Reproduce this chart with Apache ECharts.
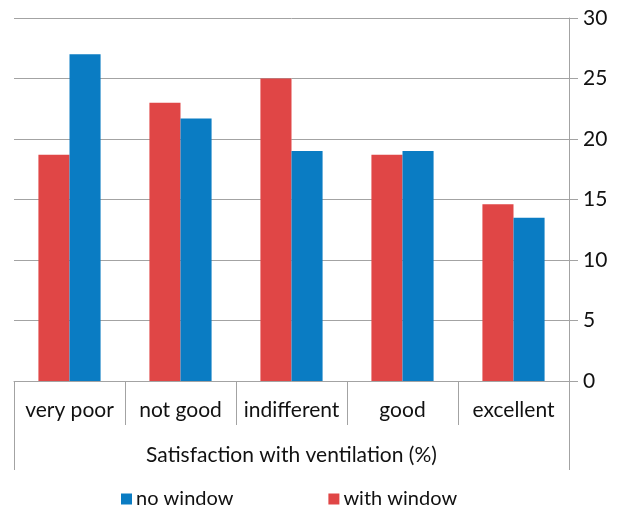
<!DOCTYPE html>
<html>
<head>
<meta charset="utf-8">
<script src="https://cdn.jsdelivr.net/npm/echarts@6/dist/echarts.min.js"></script>
<style>
  html, body { margin: 0; padding: 0; background: #fff; }
  #chart { width: 630px; height: 507px; }
</style>
</head>
<body>
<div id="chart"></div>
<script>
// Satisfaction with ventilation, share of respondents (%)
const categories = ['very poor', 'not good', 'indifferent', 'good', 'excellent'];
const withWindow = [18.7, 23, 25, 18.7, 14.6];
const noWindow = [27, 21.7, 19, 19, 13.5];
const axisTitle = 'Satisfaction with ventilation (%)';

const FONT = 'Lato';
const INK = '#111';
const GRID = '#a3a3a3';
const RED = '#e04646';
const BLUE = '#0a7cc3';

const chart = echarts.init(document.getElementById('chart'), null, { renderer: 'canvas' });

chart.setOption({
  animation: false,
  textStyle: { fontFamily: FONT, color: INK },
  grid: { left: 14, right: 61, top: 18, bottom: 126, containLabel: false },
  legend: {
    data: ['no window', 'with window'],
    left: 116,
    top: 484,
    itemWidth: 11,
    itemHeight: 11,
    itemGap: 95,
    icon: 'rect',
    textStyle: { fontFamily: FONT, fontSize: 20, color: INK, padding: [0, 0, 0, -1] }
  },
  xAxis: [
    {
      type: 'category',
      data: categories,
      axisLine: { show: true, lineStyle: { color: GRID, width: 1 } },
      axisTick: { show: true, length: 44, interval: 0, lineStyle: { color: GRID, width: 1 } },
      axisLabel: { interval: 0, margin: 19, fontSize: 21, color: INK, fontFamily: FONT }
    },
    {
      // spans the whole plot width to carry the title and the outer frame lines
      type: 'category',
      position: 'bottom',
      offset: 44,
      data: [axisTitle],
      axisLine: { show: false },
      axisTick: { show: true, length: 45, lineStyle: { color: GRID, width: 1 } },
      axisLabel: { margin: 20, fontSize: 21, color: INK, fontFamily: FONT }
    }
  ],
  yAxis: {
    type: 'value',
    position: 'right',
    min: 0,
    max: 30,
    interval: 5,
    axisLine: { show: true, lineStyle: { color: GRID, width: 1 } },
    axisTick: { show: true, length: 9, lineStyle: { color: GRID, width: 1 } },
    axisLabel: { margin: 14, fontSize: 21, color: INK, fontFamily: FONT },
    splitLine: { show: true, lineStyle: { color: GRID, width: 1 } }
  },
  series: [
    {
      name: 'with window',
      type: 'bar',
      xAxisIndex: 0,
      data: withWindow,
      itemStyle: { color: RED },
      barGap: '0%',
      barCategoryGap: '44%'
    },
    {
      name: 'no window',
      type: 'bar',
      xAxisIndex: 0,
      data: noWindow,
      itemStyle: { color: BLUE },
      barGap: '0%',
      barCategoryGap: '44%'
    }
  ]
});
</script>
</body>
</html>
